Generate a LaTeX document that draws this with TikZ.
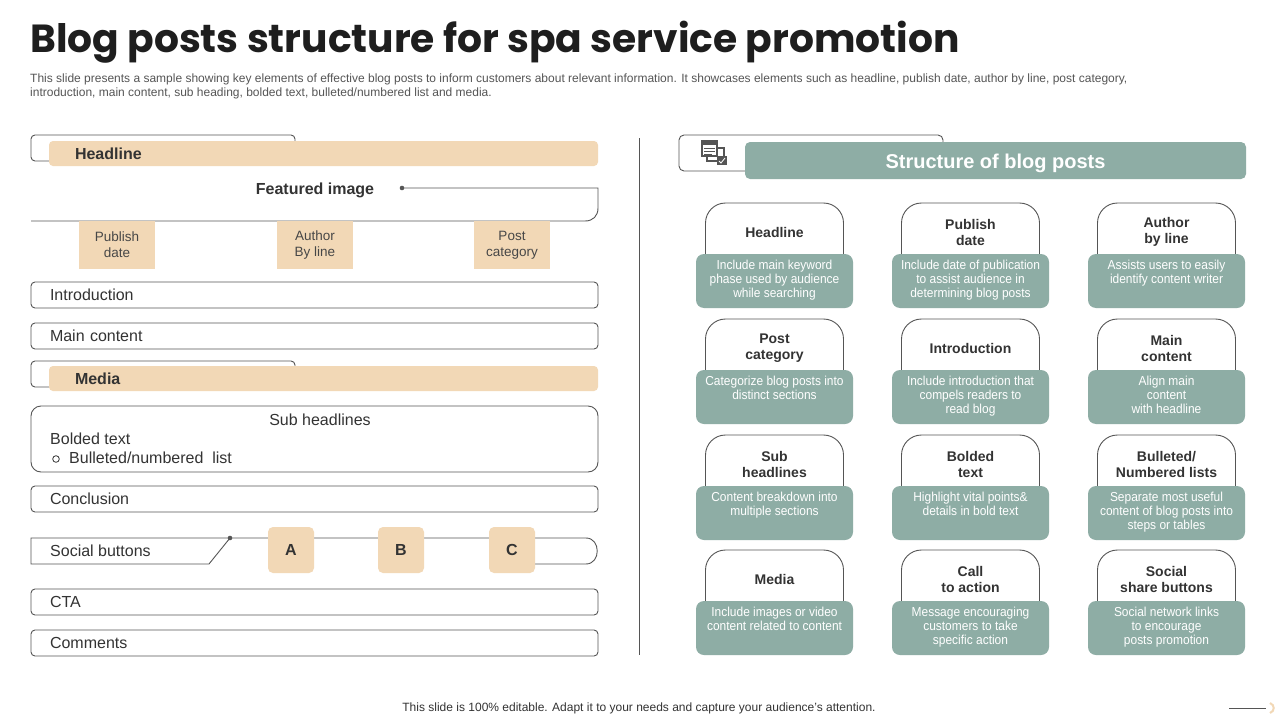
\documentclass[tikz,border=0pt]{standalone}
\usepackage{fontspec}
\setmainfont{Liberation Sans}
\newfontfamily\titlefont{Poppins}
\newfontfamily\narrowfont{Liberation Sans}[FakeStretch=0.92]
\definecolor{tanc}{HTML}{F2D8B6}
\definecolor{greenc}{HTML}{8EADA5}
\definecolor{linegray}{HTML}{555555}
\definecolor{titlecol}{HTML}{1E1E1E}
\definecolor{txt}{HTML}{333333}
\definecolor{subgray}{HTML}{555555}
\tikzset{
  outl/.style={draw=linegray, line width=0.9pt, rounded corners=4pt, inner sep=0pt},
  rowbox/.style={draw=linegray, line width=0.9pt, rounded corners=4pt, minimum width=567pt, minimum height=26pt,
     inner xsep=19pt, inner ysep=0pt, text width=529pt, align=left, text=txt, font=\fontsize{16}{18}\selectfont},
  tanbar/.style={fill=tanc, rounded corners=4pt, minimum width=549pt, minimum height=25pt, inner xsep=26pt, inner ysep=0pt,
     text width=497pt, align=left, text=txt, font=\bfseries\fontsize{16}{18}\selectfont},
  tansq/.style={fill=tanc, minimum width=76pt, minimum height=48pt, inner sep=0pt, align=center, text=txt!90,
     font=\fontsize{13.5}{16}\selectfont},
  letterbox/.style={fill=tanc, rounded corners=5pt, minimum width=46pt, minimum height=46pt, inner sep=0pt,
     text=txt, font=\bfseries\fontsize{16}{18}\selectfont},
  plain/.style={inner sep=0pt, text=txt, font=\fontsize{16}{18}\selectfont},
  tabline/.style={draw=linegray, line width=0.9pt, fill=white, rounded corners=20pt},
  cardbody/.style={fill=greenc, rounded corners=8pt, minimum width=157pt, minimum height=54pt, inner sep=0pt},
  cardhead/.style={inner sep=0pt, align=center, text=txt, font=\bfseries\fontsize{14}{16}\selectfont},
  carddesc/.style={inner sep=0pt, align=center, text=white, font=\narrowfont\fontsize{13}{14}\selectfont},
}
\newcommand\blogcard[5]{%
  \draw[tabline] ({#2-69},{#3+56}) -- ({#2-69},{#3}) -- ({#2+69},{#3}) -- ({#2+69},{#3+56});
  \node[cardbody] (d#1) at (#2,{#3+78}) {};
  \node[cardhead] (h#1) at (#2,{#3+29}) {#4};
  \node[carddesc, anchor=north] (t#1) at (#2,{#3+57}) {#5};
}
\begin{document}
\begin{tikzpicture}[x=1pt,y=-1pt]
\fill[white] (0,0) rectangle (1280,720);
\useasboundingbox (0,0) rectangle (1280,720);
% title
\node[anchor=base west, inner sep=0pt, text=titlecol, font=\titlefont\bfseries\fontsize{39.2}{47}\selectfont] (title) at (30,52) {Blog posts structure for spa service promotion};
\node[anchor=base west, inner sep=0pt, text=subgray, font=\fontsize{12}{14}\selectfont] (sub1) at (30,82) {This slide presents a sample showing key elements of effective blog posts to inform customers about relevant information. It showcases elements such as headline, publish date, author by line, post category,};
\node[anchor=base west, inner sep=0pt, text=subgray, font=\fontsize{12}{14}\selectfont] (sub2) at (30,96) {introduction, main content, sub heading, bolded text, bulleted/numbered list and media.};

% ---------- left panel ----------
\node[outl, minimum width=264pt, minimum height=26pt] (hlo) at (163,148) {};
\node[tanbar] (hlbar) at (323.5,153.5) {Headline};
\node[plain, font=\bfseries\fontsize{16}{18}\selectfont] (feat) at (315,190) {Featured image};
\coordinate (fdot) at (402,188);
\coordinate (fend) at (31,221);
\draw[linegray, line width=0.9pt] (fdot) -- (598,188) -- (598,208) .. controls (598,216) and (593,221) .. (585,221) -- (fend);
\fill[linegray] (fdot) circle (2.3);
\node[tansq] (pub) at (117,245) {Publish\\date};
\node[tansq] (auth) at (315,245) {Author\\By line};
\node[tansq] (pcat) at (512,245) {Post\\category};

\node[rowbox] (intro) at (314.5,295) {Introduction};
\node[rowbox] (mainc) at (314.5,336) {Main content};

\node[outl, minimum width=264pt, minimum height=26pt] (mdo) at (163,374) {};
\node[tanbar] (mdbar) at (323.5,378.5) {Media};

\node[outl, rounded corners=10pt, minimum width=567pt, minimum height=66pt] (subbox) at (314.5,439) {};
\node[plain] (subh) at (320,420) {Sub headlines};
\node[plain, anchor=west] (bold) at (50,439) {Bolded text};
\draw[txt, line width=0.8pt] (56,459) circle (3.3);
\node[plain, anchor=west] (bul) at (69,458) {Bulleted/numbered\ \ list};

\node[rowbox] (concl) at (314.5,499) {Conclusion};

% social buttons
\coordinate (sdot) at (230,538);
\draw[linegray, line width=0.9pt] (sdot) -- (209,564) -- (31,564) -- (31,538) -- (586,538)
   .. controls (601,538) and (601,564) .. (586,564) -- (535,564);
\fill[linegray] (sdot) circle (2.3);
\node[plain, anchor=west] (soc) at (50,551) {Social buttons};
\node[letterbox] (ba) at (291,550) {A};
\node[letterbox] (bb) at (401,550) {B};
\node[letterbox] (bc) at (512,550) {C};

\node[rowbox] (cta) at (314.5,602) {CTA};
\node[rowbox] (comm) at (314.5,643) {Comments};

% divider
\draw[linegray, line width=0.9pt] (639,138) -- (639,655);

% ---------- right panel ----------
\node[outl, rounded corners=5pt, minimum width=264pt, minimum height=36pt] (iconbox) at (811,153) {};
% icon
\begin{scope}[line width=1.3pt, draw=linegray]
  \draw[linegray] (707,148) rectangle (724,161);
  \fill[white] (702,141) rectangle (717,156);
  \draw[linegray] (702,141) rectangle (717,156);
  \fill[linegray] (703,142) rectangle (716,145);
  \draw[linegray, line width=1pt] (704,148) -- (715,148) (704,151) -- (715,151) (704,154) -- (712,154);
  \fill[linegray] (717,156) rectangle (727,165);
  \draw[white, line width=0.8pt] (719,161) -- (721,163) -- (725,158);
\end{scope}
\node[fill=greenc, rounded corners=5pt, minimum width=501pt, minimum height=37pt, inner sep=0pt] (sbar) at (995.5,160.5) {};
\node[inner sep=0pt, text=white, font=\bfseries\fontsize{20}{24}\selectfont] (stitle) at (995.5,163) {Structure of blog posts};

\blogcard{a}{774.5}{203}{Headline}{Include main keyword\\phase used by audience\\while searching}
\blogcard{b}{970.5}{203}{Publish\\date}{Include date of publication\\to assist audience in\\determining blog posts}
\blogcard{c}{1166.5}{203}{Author\\by line}{Assists users to easily\\identify content writer}
\blogcard{d}{774.5}{319}{Post\\category}{Categorize blog posts into\\distinct sections}
\blogcard{e}{970.5}{319}{Introduction}{Include introduction that\\compels readers to\\read blog}
\blogcard{f}{1166.5}{319}{Main\\content}{Align main\\content\\with headline}
\blogcard{g}{774.5}{435}{Sub\\headlines}{Content breakdown into\\multiple sections}
\blogcard{h}{970.5}{435}{Bolded\\text}{Highlight vital points\&\\details in bold text}
\blogcard{i}{1166.5}{435}{Bulleted/\\Numbered lists}{Separate most useful\\content of blog posts into\\steps or tables}
\blogcard{j}{774.5}{550}{Media}{Include images or video\\content related to content}
\blogcard{k}{970.5}{550}{Call\\to action}{Message encouraging\\customers to take\\specific action}
\blogcard{l}{1166.5}{550}{Social\\share buttons}{Social network links\\to encourage\\posts promotion}

% footer
\node[inner sep=0pt, text=txt, font=\fontsize{12}{14}\selectfont] (foot) at (639,708) {This slide is 100\% editable. Adapt it to your needs and capture your audience's attention.};
\coordinate (fl1) at (1229,708);
\coordinate (fl2) at (1266,708);
\draw[linegray, line width=0.8pt] (fl1) -- (fl2);
\draw[tanc, line width=2pt] (1270,703) .. controls (1275,705) and (1275,711) .. (1270,713);
\end{tikzpicture}
\end{document}
